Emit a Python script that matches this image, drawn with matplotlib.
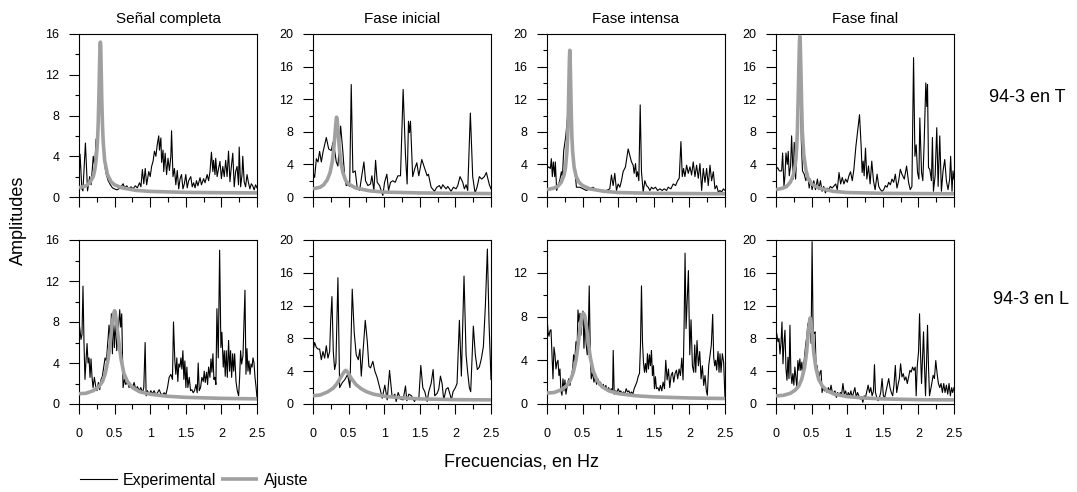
import numpy as np
import matplotlib
matplotlib.use("Agg")
import matplotlib.pyplot as plt
from matplotlib.ticker import MultipleLocator

plt.rcParams['font.family'] = ['Liberation Sans', 'DejaVu Sans']

# --- datos: pares (frecuencia Hz, amplitud) ---

titulos = ["Señal completa", "Fase inicial", "Fase intensa", "Fase final"]
filas = ["94-3 en T", "94-3 en L"]
ylims = [[16, 20, 20, 20], [16, 20, 15, 20]]

exp_T1 = [(0.00, 1.5), (0.015, 4.2), (0.04, 0.8), (0.055, 0.6), (0.09, 5.3), (0.12, 0.6), (0.15, 2.0),
          (0.17, 1.2), (0.20, 4.0), (0.22, 3.0), (0.24, 5.7), (0.26, 4.5), (0.28, 10.0), (0.30, 15.2),
          (0.32, 9.5), (0.34, 5.0), (0.36, 3.2), (0.38, 2.3), (0.41, 1.6), (0.44, 1.2), (0.47, 0.9),
          (0.50, 0.8), (0.53, 0.7), (0.56, 0.8), (0.59, 1.0), (0.62, 1.3), (0.64, 0.9), (0.67, 1.1),
          (0.70, 0.8), (0.73, 1.0), (0.76, 0.8), (0.79, 1.1), (0.82, 0.9), (0.85, 1.4), (0.87, 1.0),
          (0.89, 2.7), (0.91, 1.3), (0.93, 2.8), (0.95, 1.2), (0.98, 2.5), (1.00, 2.0), (1.02, 3.0),
          (1.04, 3.5), (1.06, 4.5), (1.08, 4.0), (1.10, 5.2), (1.12, 6.0), (1.13, 4.6), (1.15, 5.8),
          (1.16, 3.4), (1.18, 4.6), (1.19, 2.5), (1.21, 4.3), (1.23, 2.2), (1.25, 3.8), (1.27, 2.6),
          (1.29, 4.0), (1.30, 6.5), (1.32, 2.0), (1.34, 2.8), (1.36, 1.2), (1.38, 2.6), (1.40, 0.8),
          (1.42, 1.8), (1.44, 2.2), (1.46, 0.8), (1.48, 1.3), (1.50, 2.2), (1.52, 0.9), (1.54, 1.6),
          (1.57, 2.0), (1.59, 1.0), (1.61, 1.4), (1.63, 0.9), (1.65, 1.6), (1.67, 1.1), (1.70, 1.9),
          (1.72, 1.2), (1.75, 1.8), (1.77, 1.4), (1.80, 2.2), (1.82, 1.6), (1.84, 2.5), (1.86, 4.4),
          (1.88, 2.5), (1.89, 3.6), (1.91, 2.2), (1.92, 3.8), (1.94, 2.0), (1.96, 2.8), (1.98, 3.5),
          (2.00, 1.8), (2.02, 3.0), (2.04, 2.0), (2.06, 3.6), (2.08, 2.0), (2.10, 4.5), (2.12, 1.5),
          (2.14, 3.0), (2.16, 4.3), (2.18, 1.0), (2.20, 2.5), (2.22, 3.0), (2.24, 1.2), (2.25, 4.9),
          (2.27, 1.0), (2.29, 2.2), (2.30, 4.0), (2.32, 1.5), (2.34, 1.0), (2.36, 2.2), (2.38, 1.4),
          (2.40, 0.8), (2.42, 1.3), (2.44, 1.1), (2.46, 0.7), (2.48, 1.2), (2.50, 0.9)]

exp_T2 = [(0.0, 3.0), (0.023, 2.4), (0.047, 4.7), (0.07, 4.3), (0.093, 5.6), (0.117, 4.3), (0.14, 5.5),
          (0.187, 7.3), (0.22, 5.9), (0.257, 5.7), (0.28, 6.7), (0.304, 5.7), (0.327, 4.3), (0.35, 3.8),
          (0.388, 8.7), (0.42, 5.5), (0.445, 2.5), (0.467, 1.4), (0.49, 1.5), (0.515, 1.3), (0.537, 13.8),
          (0.56, 3.0), (0.593, 3.2), (0.62, 1.2), (0.654, 0.8), (0.678, 2.2), (0.715, 4.3), (0.738, 2.0),
          (0.771, 1.4), (0.808, 1.6), (0.827, 2.6), (0.855, 0.8), (0.879, 4.5), (0.902, 1.8), (0.935, 1.4),
          (0.958, 0.8), (0.981, 0.2), (1.005, 1.8), (1.037, 2.8), (1.061, 0.8), (1.089, 1.8), (1.121, 2.0),
          (1.154, 1.8), (1.192, 2.6), (1.229, 2.6), (1.266, 13.2), (1.299, 5.1), (1.322, 1.6), (1.341, 9.3),
          (1.355, 7.9), (1.369, 9.3), (1.40, 2.5), (1.43, 3.5), (1.458, 4.2), (1.486, 2.6), (1.528, 4.6),
          (1.565, 3.6), (1.603, 2.6), (1.621, 2.8), (1.659, 1.2), (1.706, 0.7), (1.738, 1.2), (1.776, 1.4),
          (1.799, 1.0), (1.822, 1.5), (1.869, 1.0), (1.893, 1.3), (1.939, 0.7), (1.972, 1.2), (2.009, 1.0),
          (2.033, 1.4), (2.065, 2.5), (2.103, 1.8), (2.126, 1.0), (2.15, 1.5), (2.173, 0.8), (2.21, 10.3),
          (2.243, 2.5), (2.276, 0.5), (2.304, 1.2), (2.336, 2.5), (2.369, 2.2), (2.407, 2.5), (2.435, 3.0),
          (2.477, 1.5), (2.5, 1.0)]

exp_T3 = [(0.0, 3.5), (0.023, 3.7), (0.047, 3.5), (0.061, 4.7), (0.075, 2.5), (0.089, 4.3), (0.108, 2.5),
          (0.117, 4.3), (0.136, 0.8), (0.155, 1.4), (0.178, 2.0), (0.202, 3.1), (0.216, 2.5), (0.235, 5.7),
          (0.263, 7.4), (0.29, 10.0), (0.319, 18.0), (0.34, 11.0), (0.36, 6.0), (0.38, 3.5), (0.40, 2.5),
          (0.413, 1.2), (0.46, 1.2), (0.507, 1.0), (0.553, 0.8), (0.60, 1.0), (0.647, 1.2), (0.694, 0.8),
          (0.741, 0.7), (0.788, 0.8), (0.835, 0.8), (0.882, 1.0), (0.905, 2.7), (0.929, 1.4), (0.952, 2.9),
          (0.976, 0.8), (0.999, 1.6), (1.023, 1.2), (1.046, 2.0), (1.069, 3.1), (1.102, 3.7), (1.14, 5.9),
          (1.163, 5.1), (1.187, 4.3), (1.21, 3.9), (1.224, 2.9), (1.243, 4.1), (1.257, 2.5), (1.271, 3.1),
          (1.29, 2.0), (1.309, 11.3), (1.327, 3.1), (1.351, 0.6), (1.374, 2.0), (1.398, 1.4), (1.421, 1.2),
          (1.445, 0.8), (1.468, 1.2), (1.492, 1.0), (1.524, 1.2), (1.553, 0.8), (1.585, 1.0), (1.618, 0.8),
          (1.646, 1.0), (1.679, 0.8), (1.703, 1.2), (1.74, 1.0), (1.773, 1.6), (1.806, 1.4), (1.834, 2.0),
          (1.857, 2.3), (1.881, 6.8), (1.90, 2.5), (1.918, 3.5), (1.937, 2.5), (1.961, 3.9), (1.984, 2.9),
          (2.008, 3.7), (2.031, 2.7), (2.054, 4.3), (2.078, 2.5), (2.101, 3.9), (2.125, 2.3), (2.148, 4.1),
          (2.172, 0.8), (2.195, 3.5), (2.219, 1.8), (2.242, 3.5), (2.265, 1.4), (2.289, 3.9), (2.312, 2.0),
          (2.336, 3.1), (2.359, 1.0), (2.383, 1.4), (2.406, 0.6), (2.43, 0.8), (2.453, 0.6), (2.477, 1.0),
          (2.5, 0.8)]

exp_T4 = [(0.0, 3.4), (0.023, 3.6), (0.047, 3.2), (0.079, 3.2), (0.093, 5.4), (0.112, 1.3), (0.126, 2.6),
          (0.14, 5.4), (0.158, 4.0), (0.172, 5.6), (0.186, 2.6), (0.205, 3.8), (0.219, 7.5), (0.242, 2.2),
          (0.256, 6.7), (0.275, 2.2), (0.289, 4.6), (0.31, 9.0), (0.335, 19.7), (0.345, 15.0), (0.355, 7.0),
          (0.372, 3.2), (0.396, 2.8), (0.419, 2.0), (0.442, 3.0), (0.466, 1.1), (0.484, 2.2), (0.507, 0.9),
          (0.531, 2.0), (0.554, 0.9), (0.582, 2.2), (0.601, 0.9), (0.624, 2.0), (0.647, 0.7), (0.67, 1.3),
          (0.694, 0.5), (0.717, 1.1), (0.74, 0.9), (0.764, 1.3), (0.787, 1.1), (0.81, 1.3), (0.838, 1.6),
          (0.861, 0.9), (0.885, 3.0), (0.908, 1.6), (0.931, 2.4), (0.954, 1.6), (0.978, 2.2), (1.001, 1.8),
          (1.024, 2.6), (1.047, 3.1), (1.071, 2.0), (1.094, 3.4), (1.122, 6.2), (1.173, 10.1), (1.196, 6.2),
          (1.21, 3.0), (1.224, 4.4), (1.238, 2.6), (1.257, 6.0), (1.276, 2.2), (1.299, 3.8), (1.322, 1.6),
          (1.345, 4.4), (1.369, 2.0), (1.392, 0.9), (1.42, 2.8), (1.443, 1.3), (1.466, 0.9), (1.49, 0.7),
          (1.513, 0.9), (1.536, 1.4), (1.56, 1.2), (1.583, 1.8), (1.606, 1.5), (1.629, 2.2), (1.653, 1.8),
          (1.676, 2.8), (1.699, 1.1), (1.723, 2.0), (1.746, 3.4), (1.769, 2.8), (1.802, 2.2), (1.834, 3.8),
          (1.862, 1.8), (1.885, 0.9), (1.909, 1.3), (1.932, 17.1), (1.951, 5.0), (1.969, 6.4), (1.988, 3.0),
          (2.007, 2.2), (2.02, 9.7), (2.044, 3.0), (2.062, 2.0), (2.081, 6.7), (2.104, 14.0), (2.118, 11.1),
          (2.128, 13.8), (2.142, 3.6), (2.16, 3.4), (2.183, 2.0), (2.197, 7.3), (2.211, 0.7), (2.235, 2.6),
          (2.258, 8.5), (2.277, 1.3), (2.30, 7.5), (2.323, 0.7), (2.346, 3.2), (2.37, 4.6), (2.393, 2.0),
          (2.416, 0.9), (2.439, 2.2), (2.453, 5.0), (2.472, 0.7), (2.486, 3.2), (2.5, 2.2)]

exp_L1 = [(0.0, 8.0), (0.014, 7.2), (0.028, 6.3), (0.042, 6.8), (0.056, 11.5), (0.07, 6.0), (0.084, 2.4),
          (0.098, 4.2), (0.113, 5.9), (0.127, 4.0), (0.141, 4.5), (0.155, 2.6), (0.169, 4.4), (0.183, 2.6),
          (0.197, 1.6), (0.216, 2.6), (0.235, 1.7), (0.253, 1.3), (0.272, 2.1), (0.291, 1.4), (0.31, 2.4),
          (0.328, 2.7), (0.347, 3.6), (0.366, 4.5), (0.385, 4.2), (0.403, 5.9), (0.422, 7.7), (0.441, 6.0),
          (0.455, 8.8), (0.469, 4.9), (0.483, 8.8), (0.497, 5.5), (0.516, 8.2), (0.53, 5.2), (0.553, 7.2),
          (0.572, 9.2), (0.586, 7.5), (0.60, 8.8), (0.619, 1.6), (0.638, 2.4), (0.657, 1.9), (0.68, 2.2),
          (0.704, 1.6), (0.727, 1.9), (0.75, 1.6), (0.774, 2.1), (0.797, 1.4), (0.821, 1.7), (0.844, 1.3),
          (0.868, 1.6), (0.891, 1.1), (0.91, 1.6), (0.929, 6.0), (0.943, 0.8), (0.962, 1.3), (0.985, 0.9),
          (1.008, 1.3), (1.032, 1.0), (1.055, 1.3), (1.079, 0.9), (1.102, 1.1), (1.126, 1.4), (1.149, 1.0),
          (1.173, 0.9), (1.196, 1.1), (1.22, 0.9), (1.243, 1.6), (1.266, 2.6), (1.29, 2.9), (1.313, 2.4),
          (1.327, 8.0), (1.346, 4.2), (1.36, 2.9), (1.374, 4.5), (1.388, 2.2), (1.402, 3.9), (1.417, 3.6),
          (1.431, 4.5), (1.445, 3.4), (1.459, 5.2), (1.473, 2.4), (1.487, 4.2), (1.501, 1.6), (1.515, 3.6),
          (1.529, 1.6), (1.548, 2.6), (1.567, 1.3), (1.585, 1.4), (1.604, 1.1), (1.623, 1.3), (1.642, 1.9),
          (1.66, 1.1), (1.674, 4.0), (1.689, 1.3), (1.707, 1.6), (1.726, 2.6), (1.745, 2.2), (1.759, 3.2),
          (1.773, 2.1), (1.792, 3.1), (1.806, 1.9), (1.82, 3.6), (1.839, 2.6), (1.853, 4.4), (1.867, 3.1),
          (1.881, 4.9), (1.895, 2.4), (1.909, 2.6), (1.923, 1.9), (1.937, 9.3), (1.956, 4.5), (1.975, 15.0),
          (1.993, 5.5), (2.007, 7.0), (2.026, 3.6), (2.04, 5.2), (2.054, 2.7), (2.068, 5.2), (2.083, 2.6),
          (2.101, 6.2), (2.115, 3.2), (2.129, 5.2), (2.144, 2.6), (2.158, 4.9), (2.172, 3.2), (2.186, 4.9),
          (2.205, 2.2), (2.223, 1.3), (2.242, 0.8), (2.256, 2.6), (2.27, 5.2), (2.284, 3.9), (2.303, 4.7),
          (2.331, 11.1), (2.345, 2.9), (2.359, 5.4), (2.373, 3.2), (2.387, 4.2), (2.402, 2.9), (2.416, 3.9),
          (2.43, 3.6), (2.444, 4.5), (2.458, 4.0), (2.472, 2.6), (2.486, 1.7), (2.5, 0.6)]

exp_L2 = [(0.0, 6.4), (0.023, 7.5), (0.047, 6.9), (0.07, 6.7), (0.093, 6.7), (0.117, 5.4), (0.14, 6.4),
          (0.164, 5.6), (0.187, 7.1), (0.21, 5.6), (0.234, 6.4), (0.248, 10.1), (0.266, 13.1), (0.285, 6.4),
          (0.304, 4.2), (0.322, 5.0), (0.35, 15.4), (0.374, 2.0), (0.411, 2.6), (0.449, 3.0), (0.486, 3.6),
          (0.519, 2.0), (0.551, 14.0), (0.579, 8.7), (0.607, 6.0), (0.636, 5.4), (0.659, 6.7), (0.678, 3.4),
          (0.734, 10.2), (0.762, 7.7), (0.785, 4.6), (0.808, 4.4), (0.841, 5.2), (0.869, 4.0), (0.902, 3.2),
          (0.925, 2.4), (0.949, 1.6), (0.972, 0.7), (1.009, 2.3), (1.042, 0.5), (1.075, 4.1), (1.112, 0.8),
          (1.15, 1.2), (1.168, 0.3), (1.196, 1.4), (1.229, 0.6), (1.266, 0.5), (1.299, 2.2), (1.318, 0.4),
          (1.346, 1.2), (1.383, 1.0), (1.425, 0.3), (1.453, 0.8), (1.486, 0.6), (1.514, 4.7), (1.542, 2.0),
          (1.57, 1.5), (1.603, 0.3), (1.626, 1.5), (1.659, 2.5), (1.687, 4.2), (1.71, 1.0), (1.743, 1.3),
          (1.766, 1.8), (1.79, 3.4), (1.813, 2.5), (1.836, 0.5), (1.869, 1.8), (1.897, 2.0), (1.93, 1.0),
          (1.944, 0.5), (1.967, 1.5), (2.0, 2.0), (2.023, 2.5), (2.056, 10.2), (2.084, 3.4), (2.121, 15.6),
          (2.15, 6.0), (2.173, 3.8), (2.196, 2.0), (2.215, 1.5), (2.252, 9.5), (2.28, 6.0), (2.308, 4.2),
          (2.336, 4.5), (2.364, 5.5), (2.393, 7.0), (2.421, 12.0), (2.449, 18.9), (2.472, 10.0), (2.5, 3.0)]

exp_L3 = [(0.0, 8.0), (0.014, 6.6), (0.028, 6.2), (0.042, 6.7), (0.056, 6.8), (0.07, 4.6), (0.084, 2.3),
          (0.098, 5.2), (0.112, 4.5), (0.126, 3.2), (0.14, 3.8), (0.154, 4.0), (0.168, 2.6), (0.182, 3.2),
          (0.196, 1.2), (0.21, 0.8), (0.224, 2.3), (0.238, 1.2), (0.252, 2.2), (0.266, 0.9), (0.285, 1.7),
          (0.304, 2.3), (0.322, 1.7), (0.341, 2.5), (0.36, 3.2), (0.374, 4.5), (0.388, 3.8), (0.407, 5.7),
          (0.421, 4.5), (0.435, 8.6), (0.449, 7.5), (0.463, 8.3), (0.477, 6.3), (0.491, 7.8), (0.505, 8.5),
          (0.519, 5.1), (0.533, 7.8), (0.551, 5.4), (0.565, 4.5), (0.579, 6.3), (0.593, 10.8), (0.607, 5.1),
          (0.621, 2.3), (0.64, 2.9), (0.659, 2.0), (0.678, 2.5), (0.696, 1.8), (0.715, 2.3), (0.734, 1.7),
          (0.752, 2.0), (0.771, 1.5), (0.79, 1.8), (0.808, 1.4), (0.827, 1.7), (0.846, 1.2), (0.864, 1.5),
          (0.883, 1.2), (0.902, 1.4), (0.921, 1.1), (0.93, 4.9), (0.944, 0.9), (0.963, 1.2), (0.981, 1.1),
          (1.0, 1.4), (1.019, 1.1), (1.037, 1.2), (1.056, 0.9), (1.075, 1.1), (1.093, 0.9), (1.112, 1.4),
          (1.131, 1.1), (1.15, 1.2), (1.168, 0.9), (1.187, 1.1), (1.206, 0.9), (1.224, 1.4), (1.243, 1.7),
          (1.262, 2.0), (1.28, 2.5), (1.299, 2.8), (1.313, 5.4), (1.327, 10.8), (1.341, 5.7), (1.355, 3.8),
          (1.369, 2.9), (1.383, 3.7), (1.397, 2.9), (1.411, 4.6), (1.425, 3.2), (1.439, 4.5), (1.453, 3.5),
          (1.467, 4.9), (1.481, 2.6), (1.495, 3.5), (1.509, 1.4), (1.523, 2.5), (1.537, 1.4), (1.556, 1.5),
          (1.575, 1.2), (1.593, 1.7), (1.612, 1.2), (1.631, 2.0), (1.65, 1.4), (1.668, 4.0), (1.687, 2.2),
          (1.706, 3.2), (1.724, 1.5), (1.743, 2.6), (1.762, 2.9), (1.78, 2.0), (1.799, 2.8), (1.818, 3.1),
          (1.836, 2.3), (1.855, 3.2), (1.874, 2.6), (1.893, 4.2), (1.911, 2.2), (1.925, 6.9), (1.939, 13.8),
          (1.953, 6.9), (1.986, 12.2), (2.005, 4.5), (2.023, 7.7), (2.042, 3.5), (2.061, 2.9), (2.075, 5.4),
          (2.089, 2.9), (2.107, 5.8), (2.126, 3.5), (2.145, 4.8), (2.164, 2.3), (2.182, 3.5), (2.201, 1.7),
          (2.22, 2.6), (2.238, 1.2), (2.252, 0.8), (2.271, 3.5), (2.29, 4.5), (2.308, 5.4), (2.327, 8.2),
          (2.341, 4.3), (2.355, 3.5), (2.369, 4.0), (2.383, 3.1), (2.402, 4.8), (2.416, 2.9), (2.43, 4.6),
          (2.444, 2.9), (2.463, 4.6), (2.481, 3.8), (2.5, 0.5)]

exp_L4 = [(0.0, 9.0), (0.014, 8.4), (0.028, 7.6), (0.042, 8.0), (0.056, 6.1), (0.07, 7.4), (0.084, 10.0),
          (0.098, 4.9), (0.112, 7.4), (0.126, 9.0), (0.14, 4.3), (0.154, 2.9), (0.168, 5.7), (0.182, 3.1),
          (0.196, 9.6), (0.209, 3.7), (0.223, 2.5), (0.237, 3.7), (0.251, 2.3), (0.265, 4.5), (0.279, 3.3),
          (0.293, 2.0), (0.307, 5.3), (0.321, 4.1), (0.335, 5.5), (0.349, 4.1), (0.363, 5.1), (0.377, 3.5),
          (0.391, 4.9), (0.405, 6.1), (0.419, 7.4), (0.433, 8.2), (0.447, 9.8), (0.466, 9.0), (0.48, 10.0),
          (0.493, 7.4), (0.507, 19.8), (0.521, 8.8), (0.535, 8.6), (0.549, 8.8), (0.563, 4.5), (0.577, 4.7),
          (0.591, 3.7), (0.605, 3.1), (0.619, 3.9), (0.633, 4.1), (0.647, 1.4), (0.661, 2.0), (0.68, 1.6),
          (0.698, 1.8), (0.717, 1.4), (0.736, 2.0), (0.754, 1.4), (0.773, 2.3), (0.791, 1.4), (0.81, 1.4),
          (0.829, 1.6), (0.847, 0.8), (0.866, 1.4), (0.885, 1.0), (0.903, 1.4), (0.922, 1.2), (0.94, 2.5),
          (0.959, 1.2), (0.978, 1.6), (0.996, 0.8), (1.015, 1.4), (1.034, 1.0), (1.052, 1.6), (1.071, 0.8),
          (1.089, 1.4), (1.108, 2.0), (1.127, 0.8), (1.145, 1.4), (1.164, 1.0), (1.182, 0.6), (1.201, 0.8),
          (1.22, 0.2), (1.238, 1.0), (1.257, 0.8), (1.276, 1.6), (1.294, 2.3), (1.313, 1.4), (1.331, 2.0),
          (1.35, 1.0), (1.369, 1.6), (1.383, 4.8), (1.397, 1.4), (1.415, 0.8), (1.434, 0.4), (1.453, 0.8),
          (1.471, 1.4), (1.49, 3.1), (1.508, 1.0), (1.527, 0.8), (1.546, 1.6), (1.564, 2.3), (1.583, 3.1),
          (1.601, 2.0), (1.62, 1.4), (1.639, 1.0), (1.657, 2.3), (1.676, 4.7), (1.695, 1.4), (1.713, 2.3),
          (1.732, 3.1), (1.75, 4.9), (1.769, 3.3), (1.788, 3.7), (1.806, 2.9), (1.825, 3.3), (1.844, 2.5),
          (1.862, 3.3), (1.881, 4.1), (1.899, 3.9), (1.918, 4.5), (1.937, 4.1), (1.955, 4.5), (1.969, 1.0),
          (1.983, 4.5), (2.002, 6.4), (2.016, 11.0), (2.03, 6.1), (2.044, 2.5), (2.058, 5.7), (2.072, 8.8),
          (2.086, 4.5), (2.1, 1.0), (2.114, 4.9), (2.128, 9.6), (2.142, 4.5), (2.156, 1.0), (2.169, 1.6),
          (2.188, 2.5), (2.207, 3.5), (2.225, 3.1), (2.244, 5.3), (2.263, 3.7), (2.281, 2.5), (2.3, 2.0),
          (2.318, 2.5), (2.337, 1.4), (2.356, 2.5), (2.374, 1.4), (2.393, 2.3), (2.412, 1.2), (2.43, 2.5),
          (2.449, 1.0), (2.467, 2.0), (2.481, 1.4), (2.5, 2.0)]

# curvas de ajuste (gris)
aju_T1 = [(0, 0.9), (0.1, 1.1), (0.15, 1.4), (0.2, 2.0), (0.22, 2.6), (0.24, 3.6), (0.26, 5.5), (0.27, 7.3),
          (0.28, 10.0), (0.29, 13.3), (0.295, 14.8), (0.30, 15.2), (0.305, 14.8), (0.31, 13.0), (0.32, 9.5),
          (0.33, 7.0), (0.34, 5.4), (0.36, 3.6), (0.40, 2.2), (0.45, 1.5), (0.5, 1.2), (0.6, 0.9),
          (0.8, 0.65), (1.0, 0.55), (1.5, 0.45), (2.0, 0.42), (2.5, 0.4)]
aju_T2 = [(0, 1.0), (0.1, 1.2), (0.15, 1.5), (0.2, 2.1), (0.24, 3.0), (0.27, 4.3), (0.29, 5.8), (0.31, 7.8),
          (0.32, 9.0), (0.33, 9.8), (0.34, 9.5), (0.35, 8.3), (0.37, 6.0), (0.39, 4.3), (0.42, 3.0),
          (0.46, 2.0), (0.5, 1.6), (0.6, 1.1), (0.8, 0.75), (1.0, 0.6), (1.5, 0.5), (2.0, 0.45), (2.5, 0.42)]
aju_T3 = [(0, 0.9), (0.1, 1.1), (0.15, 1.3), (0.2, 1.8), (0.24, 2.7), (0.26, 3.6), (0.28, 5.6), (0.29, 7.3),
          (0.30, 10.5), (0.31, 15.0), (0.315, 17.0), (0.32, 18.0), (0.325, 17.0), (0.33, 15.0), (0.34, 10.5),
          (0.35, 7.3), (0.36, 5.6), (0.38, 3.7), (0.41, 2.5), (0.45, 1.8), (0.5, 1.4), (0.6, 1.0),
          (0.8, 0.7), (1.0, 0.55), (1.5, 0.45), (2.0, 0.42), (2.5, 0.4)]
aju_T4 = [(0, 0.9), (0.1, 1.1), (0.15, 1.3), (0.2, 1.8), (0.24, 2.6), (0.27, 3.9), (0.29, 6.0), (0.30, 8.0),
          (0.31, 11.5), (0.32, 15.5), (0.33, 19.2), (0.335, 19.7), (0.34, 19.2), (0.35, 15.5), (0.36, 11.5),
          (0.37, 8.0), (0.39, 5.2), (0.42, 3.3), (0.45, 2.3), (0.5, 1.6), (0.6, 1.1), (0.8, 0.7),
          (1.0, 0.55), (1.5, 0.45), (2.0, 0.42), (2.5, 0.4)]
aju_L1 = [(0, 1.0), (0.1, 1.05), (0.2, 1.3), (0.28, 1.7), (0.33, 2.2), (0.37, 3.0), (0.41, 4.4), (0.44, 6.0),
          (0.47, 8.0), (0.49, 8.9), (0.50, 9.1), (0.51, 8.9), (0.53, 7.8), (0.56, 6.0), (0.59, 4.4),
          (0.63, 3.0), (0.68, 2.2), (0.75, 1.6), (0.85, 1.2), (1.0, 0.95), (1.25, 0.75), (1.5, 0.65),
          (2.0, 0.55), (2.5, 0.5)]
aju_L2 = [(0, 1.0), (0.1, 1.1), (0.2, 1.45), (0.28, 1.9), (0.33, 2.4), (0.38, 3.1), (0.42, 3.7), (0.45, 4.05),
          (0.46, 4.1), (0.47, 4.05), (0.5, 3.7), (0.54, 3.1), (0.6, 2.4), (0.67, 1.9), (0.75, 1.5),
          (0.85, 1.2), (1.0, 0.95), (1.25, 0.75), (1.5, 0.62), (2.0, 0.53), (2.5, 0.5)]
aju_L3 = [(0, 1.0), (0.1, 1.05), (0.2, 1.3), (0.28, 1.7), (0.33, 2.2), (0.37, 2.9), (0.41, 4.1), (0.44, 5.6),
          (0.47, 7.3), (0.49, 8.1), (0.51, 8.3), (0.53, 8.1), (0.55, 7.3), (0.58, 5.6), (0.61, 4.2),
          (0.65, 3.0), (0.7, 2.2), (0.77, 1.6), (0.87, 1.2), (1.0, 0.95), (1.25, 0.75), (1.5, 0.65),
          (2.0, 0.55), (2.5, 0.5)]
aju_L4 = [(0, 1.0), (0.1, 1.05), (0.2, 1.3), (0.27, 1.7), (0.32, 2.2), (0.36, 3.0), (0.40, 4.4), (0.43, 6.3),
          (0.45, 8.4), (0.47, 10.0), (0.48, 10.5), (0.49, 10.0), (0.51, 8.4), (0.53, 6.3), (0.56, 4.4),
          (0.6, 3.0), (0.65, 2.2), (0.72, 1.6), (0.82, 1.2), (1.0, 0.9), (1.25, 0.72), (1.5, 0.62),
          (2.0, 0.53), (2.5, 0.5)]

experimental = [[exp_T1, exp_T2, exp_T3, exp_T4], [exp_L1, exp_L2, exp_L3, exp_L4]]
ajuste = [[aju_T1, aju_T2, aju_T3, aju_T4], [aju_L1, aju_L2, aju_L3, aju_L4]]

# --- figura ---
W, H = 1077, 492
fig = plt.figure(figsize=(W / 100, H / 100), dpi=100)

lefts = [79, 313, 547, 776]
ancho = 178
filas_px = [(34, 197), (240, 404)]

for i in range(2):
    for j in range(4):
        top, bot = filas_px[i]
        ax = fig.add_axes([lefts[j] / W, 1 - bot / H, ancho / W, (bot - top) / H])
        e = np.array(experimental[i][j])
        a = np.array(ajuste[i][j])
        l1, = ax.plot(e[:, 0], e[:, 1], color='black', lw=0.8, label='Experimental', zorder=2)
        l2, = ax.plot(a[:, 0], a[:, 1], color='#a0a0a0', lw=2.6, label='Ajuste', zorder=3,
                      solid_capstyle='butt')
        ax.set_xlim(0, 2.5)
        ax.set_ylim(0, ylims[i][j])
        ax.xaxis.set_major_locator(MultipleLocator(0.5))
        ax.xaxis.set_minor_locator(MultipleLocator(0.25))
        ax.yaxis.set_major_locator(MultipleLocator(4))
        ax.yaxis.set_minor_locator(MultipleLocator(2))
        ax.xaxis.set_major_formatter(plt.FuncFormatter(lambda v, p: f"{v:g}"))
        ax.tick_params(axis='x', which='major', direction='out', length=7, width=0.8, pad=10,
                       labelsize=9, labelbottom=(i == 1))
        ax.tick_params(axis='x', which='minor', direction='out', length=3.5, width=0.8)
        ax.tick_params(axis='y', which='major', direction='out', length=7, width=0.8, pad=7, labelsize=9)
        ax.tick_params(axis='y', which='minor', direction='out', length=3, width=0.8)
        for s in ax.spines.values():
            s.set_linewidth(0.8)
        if i == 0:
            ax.set_title(titulos[j], fontsize=11, pad=8)

fig.text(1027 / W, 1 - 97 / H, filas[0], fontsize=13, ha='center', va='center')
fig.text(1031 / W, 1 - 300 / H, filas[1], fontsize=13, ha='center', va='center')
fig.text(18 / W, 1 - 220 / H, "Amplitudes", fontsize=13, rotation=90, ha='center', va='center')
fig.text(521 / W, 1 - 462 / H, "Frecuencias, en Hz", fontsize=13, ha='center', va='center')

fig.legend(handles=[l1, l2], loc='center left', bbox_to_anchor=(80 / W, 1 - 480 / H), ncol=2,
           frameon=False, fontsize=11.5, handlelength=2.3, handletextpad=0.35, columnspacing=0.35,
           borderpad=0, borderaxespad=0)

fig.savefig("out.png", dpi=100)
